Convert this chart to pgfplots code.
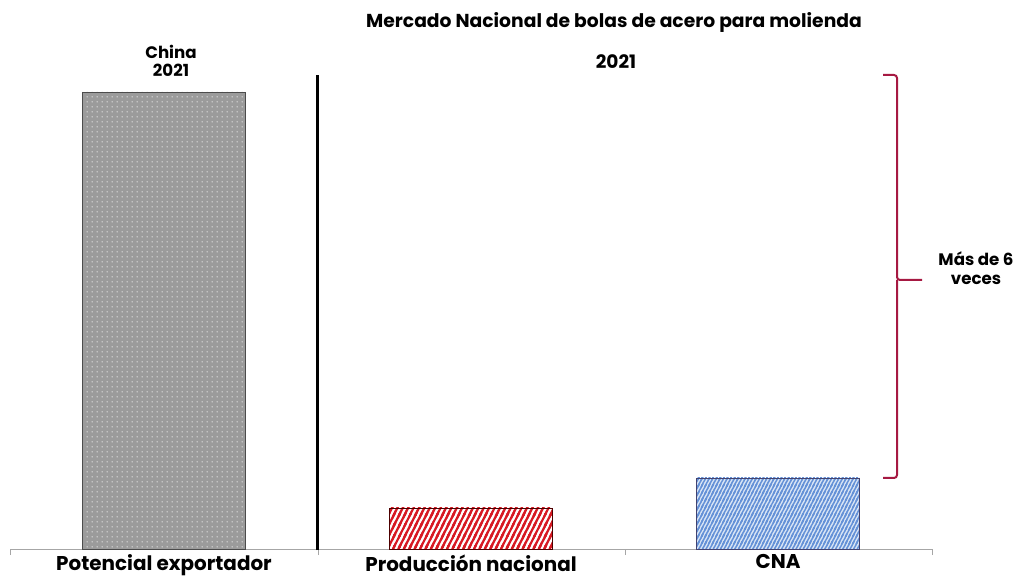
\documentclass[border=0pt]{standalone}
\usepackage{pgfplots}
\pgfplotsset{compat=1.18}
\usepackage{fontspec}
\setmainfont{Poppins}
\usetikzlibrary{patterns}
\definecolor{braceC}{RGB}{166,25,66}
\definecolor{redS}{RGB}{215,25,35}
\definecolor{blueS}{RGB}{100,145,215}
\definecolor{grayF}{RGB}{155,155,155}
\definecolor{blueF}{RGB}{215,228,245}
\pgfdeclarepatternformonly{redstripes}{\pgfpoint{-1bp}{-1bp}}{\pgfpoint{6.4bp}{11.8bp}}{\pgfpoint{5.4bp}{10.8bp}}{%
  \pgfsetlinewidth{2.2bp}%
  \pgfpathmoveto{\pgfpoint{-5.4bp}{-10.8bp}}\pgfpathlineto{\pgfpoint{10.8bp}{21.6bp}}%
  \pgfpathmoveto{\pgfpoint{0bp}{-10.8bp}}\pgfpathlineto{\pgfpoint{16.2bp}{21.6bp}}%
  \pgfpathmoveto{\pgfpoint{-10.8bp}{-10.8bp}}\pgfpathlineto{\pgfpoint{5.4bp}{21.6bp}}%
  \pgfusepath{stroke}}
\pgfdeclarepatternformonly{bluestripes}{\pgfpoint{-1bp}{-1bp}}{\pgfpoint{4.6bp}{8.2bp}}{\pgfpoint{3.6bp}{7.2bp}}{%
  \pgfsetlinewidth{1.4bp}%
  \pgfpathmoveto{\pgfpoint{-3.6bp}{-7.2bp}}\pgfpathlineto{\pgfpoint{7.2bp}{14.4bp}}%
  \pgfpathmoveto{\pgfpoint{0bp}{-7.2bp}}\pgfpathlineto{\pgfpoint{10.8bp}{14.4bp}}%
  \pgfpathmoveto{\pgfpoint{-7.2bp}{-7.2bp}}\pgfpathlineto{\pgfpoint{3.6bp}{14.4bp}}%
  \pgfusepath{stroke}}
\pgfdeclarepatternformonly{mydots}{\pgfpointorigin}{\pgfpoint{5bp}{5bp}}{\pgfpoint{5bp}{5bp}}{%
  \pgfpathcircle{\pgfpoint{2.5bp}{2.5bp}}{0.8bp}\pgfusepath{fill}}
\begin{document}
\begin{tikzpicture}[x=1bp,y=1bp]
\begin{axis}[
  scale only axis,
  width=922bp, height=549bp,
  xmin=10, xmax=932, ymin=0, ymax=549,
  clip=false,
  hide y axis,
  axis x line*=bottom,
  axis line style={gray!70, line width=1bp},
  xtick={164,471,778},
  xticklabels={Potencial exportador, Producción nacional, CNA},
  major tick length=0pt,
  xticklabel style={font=\fontsize{20}{23}\selectfont\bfseries, yshift=-2bp},
  extra x ticks={10,318,625,932},
  extra x tick labels={},
  extra x tick style={major tick length=6bp, tick align=outside, tick style={gray!70, line width=1bp}},
]
\addplot[ybar, bar shift=0pt, bar width=163, draw=gray!60!black, line width=0.7bp, fill=grayF,
  postaction={pattern=mydots, pattern color=white!85!gray}]
  coordinates {(164,457)};
\addplot[ybar, bar shift=0pt, bar width=163, draw=red!30!black, line width=0.7bp, fill=white,
  postaction={pattern=redstripes, pattern color=redS}]
  coordinates {(471,41)};
\addplot[ybar, bar shift=0pt, bar width=163, draw=blue!25!gray!70!black, line width=0.7bp, fill=blueF,
  postaction={pattern=bluestripes, pattern color=blueS}]
  coordinates {(778,71)};

\draw[black, line width=3bp] (axis cs:317,-1) -- (axis cs:317,474);
\draw[braceC, line width=2bp, rounded corners=3bp] (axis cs:883,474) -| (axis cs:897,269) -- (axis cs:922,269);
\draw[braceC, line width=2bp, rounded corners=3bp] (axis cs:883,71) -| (axis cs:897,269);

\node[font=\fontsize{18.8}{21}\selectfont\bfseries] at (axis cs:614,527) {Mercado Nacional de bolas de acero para molienda};
\node[font=\fontsize{18.6}{21}\selectfont\bfseries] at (axis cs:616,487) {2021};
\node[font=\fontsize{16.7}{18}\selectfont\bfseries, align=center] at (axis cs:171,488) {China\\2021};
\node[font=\fontsize{16.7}{19}\selectfont\bfseries, align=center] at (axis cs:976,281) {Más de 6\\veces};

\coordinate (bl) at (axis cs:0,-30);
\coordinate (tr) at (axis cs:1018,549);
\end{axis}
\pgfresetboundingbox
\path (bl) rectangle (tr);
\end{tikzpicture}
\end{document}
